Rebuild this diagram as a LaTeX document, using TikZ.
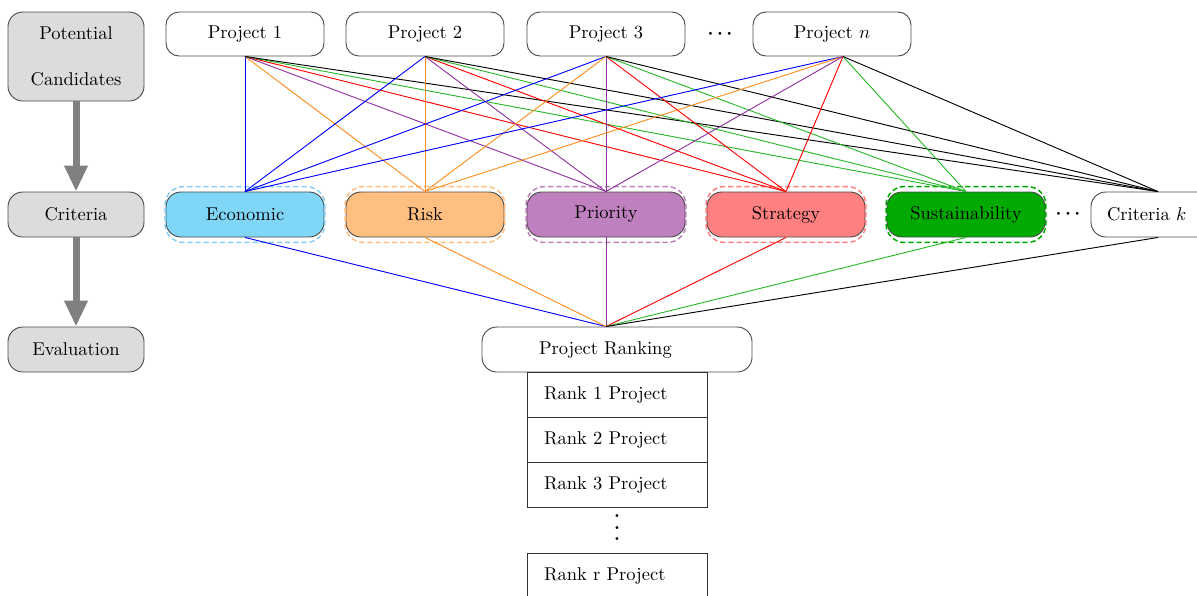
\documentclass[tikz,border=0pt]{standalone}
\usetikzlibrary{arrows.meta,fit}
% one drawing unit
\newcommand\pxu{0.54pt}
% three stacked bold dots, more widely spaced than \vdots
\newcommand\tallvdots{\vbox{\bfseries\baselineskip=6.2pt\lineskiplimit=0pt\hbox{.}\hbox{.}\hbox{.}}}
\definecolor{econfill}{RGB}{128,214,247}
\definecolor{econhalo}{RGB}{135,206,240}
\definecolor{riskfill}{RGB}{255,191,128}
\definecolor{priofill}{RGB}{191,128,191}
\definecolor{stratfill}{RGB}{255,128,128}
\definecolor{susfill}{RGB}{0,170,0}
\definecolor{stagegray}{RGB}{220,220,220}
\definecolor{linegreen}{RGB}{40,185,40}
\definecolor{lineviolet}{RGB}{145,50,160}
\definecolor{lineorange}{RGB}{255,140,30}
\tikzset{
  box/.style={draw=black!70, rounded corners=7pt, minimum width=158*\pxu,
    minimum height=44*\pxu, inner sep=0pt, line width=0.5pt},
  stage/.style={box, fill=stagegray, minimum width=136*\pxu, rounded corners=8pt},
  crit/.style={box, minimum height=45*\pxu, rounded corners=8pt},
  halo/.style={draw=#1, dash pattern=on 2.8pt off 1.6pt, line width=0.8pt,
    rounded corners=10pt, inner xsep=0.5*\pxu, inner ysep=5*\pxu},
  rankbox/.style={draw=black!80, line width=0.5pt, minimum width=180*\pxu,
    minimum height=45*\pxu, text width=146*\pxu, align=left,
    inner xsep=17*\pxu, inner ysep=0pt},
  flow/.style={draw=gray, line width=7*\pxu, -{Triangle[width=11.9pt,length=14pt]}},
  link/.style={line width=0.5pt},
  ellipsis/.style={inner sep=0pt, font=\boldmath},
}
\begin{document}
\begin{tikzpicture}[x=0.54pt, y={(0pt,-0.54pt)}]
\clip (0,0) rectangle (1197,595);

% stages on the left
\node[stage, minimum height=89*\pxu, align=center] (pc) at (76,56.5) {Potential\\[13pt]Candidates};
\node[stage, minimum height=45*\pxu] (cs) at (76,214.5) {Criteria};
\node[stage, minimum height=45*\pxu] (ev) at (76,349.5) {Evaluation};
\draw[flow] (pc.south) -- (cs.north);
\draw[flow] (cs.south) -- (ev.north);

% projects
\node[box] (p1) at (245,34) {Project 1};
\node[box] (p2) at (425,34) {Project 2};
\node[box] (p3) at (606,34) {Project 3};
\node[ellipsis] (pdots) at (720,34) {$\cdots$};
\node[box] (pn) at (832,34) {Project $n$};

% criteria
\node[crit, fill=econfill] (ec) at (245,214.5) {Economic};
\node[crit, fill=riskfill] (rk) at (425,214.5) {Risk};
\node[crit, fill=priofill] (pr) at (606,214.5) {Priority};
\node[crit, fill=stratfill] (st) at (786,214.5) {Strategy};
\node[crit, fill=susfill] (su) at (966,214.5) {Sustainability};
\node[ellipsis] (cdots) at (1068,214.5) {$\cdots$};
\node[crit, text width=126*\pxu, align=left, inner xsep=16*\pxu] (ck) at (1170,214.5) {Criteria $k$};

\node[halo=econhalo, fit=(ec)] (ech) {};
\node[halo=riskfill, fit=(rk)] (rkh) {};
\node[halo=priofill, fit=(pr)] (prh) {};
\node[halo=stratfill, fit=(st)] (sth) {};
\node[halo=susfill, fit=(su)] (suh) {};

% ranking
\node[box, minimum width=270*\pxu, minimum height=45*\pxu, text width=156*\pxu,
  align=left, inner xsep=57*\pxu, rounded corners=8pt] (rank) at (617,349.5) {Project Ranking};
\node[rankbox] (r1) at (617,394.5) {Rank 1 Project};
\node[rankbox] (r2) at (617,439.5) {Rank 2 Project};
\node[rankbox] (r3) at (617,485) {Rank 3 Project};
\node[inner sep=0pt] (rdots) at (617,528) {\tallvdots};
\node[rankbox] (rr) at (617,575.5) {Rank r Project};

% attachment points
\coordinate (p1S) at (p1.south);
\coordinate (p2S) at (p2.south);
\coordinate (p3S) at (p3.south);
\coordinate (pnS) at ([xshift=11*\pxu]pn.south);
\coordinate (ecN) at (ec.north);  \coordinate (ecS) at (ec.south);
\coordinate (rkN) at (rk.north);  \coordinate (rkS) at (rk.south);
\coordinate (prN) at (pr.north);  \coordinate (prS) at (pr.south);
\coordinate (stN) at (st.north);  \coordinate (stS) at (st.south);
\coordinate (suN) at (su.north);  \coordinate (suS) at (su.south);
\coordinate (ckN) at ([xshift=-12*\pxu]ck.north);
\coordinate (ckS) at ([xshift=-12*\pxu]ck.south);
\coordinate (rankN) at ([xshift=-11*\pxu]rank.north);

% every project against every criterion
\foreach \p in {p1S,p2S,p3S,pnS}{
  \foreach \c/\col in {ecN/blue, rkN/lineorange, prN/lineviolet, stN/red, suN/linegreen, ckN/black}{
    \draw[link,\col] (\p) -- (\c);
  }
}
% criteria feeding the ranking
\foreach \c/\col in {ecS/blue, rkS/lineorange, prS/lineviolet, stS/red, suS/linegreen, ckS/black}{
  \draw[link,\col] (\c) -- (rankN);
}
\end{tikzpicture}
\end{document}
